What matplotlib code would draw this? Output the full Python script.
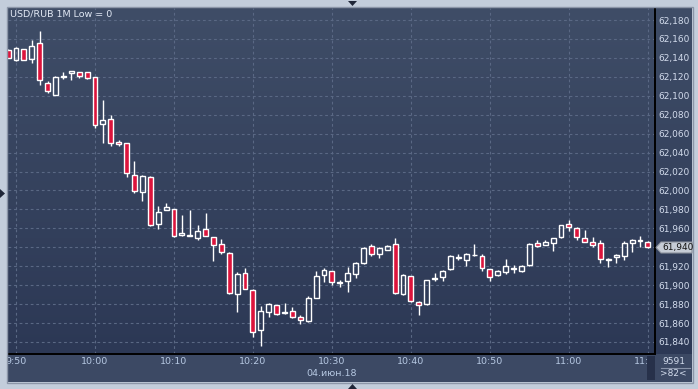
import numpy as np
import matplotlib.pyplot as plt
from matplotlib.patches import Polygon, Rectangle

# one-minute candles, 09:49 .. 11:10
opens = [62148.7, 62137.4, 62149.4, 62138.9, 62155.8, 62113.5, 62100.8, 62119.8, 62123.7, 62125.1,
         62125.1, 62119.8, 62070.1, 62075.4, 62051.5, 62050.0, 62016.2, 61998.2, 62014.5, 61964.1,
         61979.2, 61980.3, 61952.8, 61951.8, 61950.3, 61959.1, 61950.7, 61943.3, 61933.8, 61890.4,
         61912.6, 61894.6, 61852.4, 61871.4, 61878.8, 61871.0, 61872.8, 61866.1, 61861.9, 61886.9,
         61911.2, 61914.7, 61902.4, 61904.9, 61911.6, 61923.9, 61941.2, 61933.4, 61937.6, 61943.3,
         61891.1, 61909.4, 61882.0, 61880.5, 61906.6, 61908.4, 61916.8, 61928.8, 61926.4, 61931.6,
         61930.9, 61916.8, 61910.5, 61913.7, 61917.2, 61914.7, 61921.8, 61944.3, 61942.9, 61944.3,
         61950.7, 61964.4, 61960.5, 61949.6, 61945.4, 61944.3, 61926.7, 61929.5, 61930.6, 61944.0,
         61946.8, 61945.4]
highs = [62149.0, 62151.9, 62149.6, 62159.3, 62168.8, 62116.0, 62120.9, 62125.1, 62126.5, 62125.3,
         62125.3, 62120.0, 62095.9, 62080.0, 62053.6, 62050.3, 62031.4, 62016.6, 62015.5, 61983.8,
         61987.0, 61980.5, 61974.3, 61978.9, 61963.7, 61976.4, 61951.0, 61948.9, 61935.5, 61913.7,
         61917.9, 61896.0, 61878.0, 61881.6, 61879.2, 61881.3, 61876.7, 61868.6, 61888.7, 61914.7,
         61918.3, 61915.0, 61905.6, 61919.0, 61924.2, 61940.1, 61943.6, 61940.4, 61942.6, 61950.0,
         61911.6, 61909.7, 61883.0, 61905.5, 61913.0, 61916.1, 61932.0, 61932.7, 61933.8, 61943.6,
         61932.7, 61917.0, 61916.1, 61927.8, 61921.4, 61921.4, 61944.0, 61947.8, 61947.8, 61950.3,
         61963.7, 61969.0, 61961.6, 61958.4, 61951.0, 61947.8, 61928.8, 61933.1, 61946.8, 61948.6,
         61951.7, 61946.5]
lows = [62139.5, 62136.4, 62137.5, 62134.3, 62111.0, 62102.6, 62100.8, 62117.7, 62116.3, 62118.8,
        62117.7, 62065.6, 62049.7, 62046.5, 62046.5, 62014.5, 61996.8, 61989.1, 61963.0, 61958.8,
        61979.0, 61950.7, 61951.7, 61951.7, 61948.2, 61951.5, 61926.0, 61933.4, 61891.1, 61871.4,
        61895.7, 61845.7, 61836.1, 61866.8, 61868.2, 61869.3, 61865.4, 61859.4, 61861.5, 61886.2,
        61903.5, 61900.6, 61898.2, 61893.2, 61908.0, 61922.5, 61931.3, 61929.2, 61937.3, 61890.4,
        61890.0, 61882.7, 61868.9, 61879.5, 61904.0, 61904.5, 61916.5, 61927.0, 61920.7, 61930.6,
        61915.4, 61904.9, 61910.2, 61912.3, 61913.3, 61914.4, 61920.7, 61940.1, 61942.6, 61936.6,
        61950.0, 61957.7, 61947.2, 61945.7, 61940.8, 61923.9, 61919.3, 61923.5, 61927.0, 61935.5,
        61939.8, 61939.0]
closes = [62140.0, 62150.5, 62137.8, 62152.6, 62116.3, 62104.7, 62119.8, 62120.5, 62126.2, 62120.5,
          62118.8, 62069.1, 62074.4, 62050.0, 62049.0, 62018.0, 61999.3, 62015.5, 61963.4, 61977.1,
          61982.7, 61951.7, 61954.9, 61952.5, 61957.0, 61951.7, 61942.2, 61935.5, 61892.2, 61911.6,
          61896.4, 61850.2, 61872.4, 61879.8, 61869.3, 61871.4, 61866.1, 61862.9, 61886.2, 61909.4,
          61915.8, 61903.1, 61903.1, 61912.6, 61923.2, 61939.4, 61932.4, 61939.0, 61941.2, 61892.2,
          61910.5, 61883.7, 61878.8, 61905.2, 61907.3, 61914.7, 61930.9, 61929.5, 61932.7, 61932.0,
          61917.9, 61908.4, 61915.1, 61920.4, 61917.9, 61920.4, 61943.6, 61941.2, 61945.4, 61950.0,
          61963.4, 61961.3, 61950.7, 61946.1, 61942.9, 61927.4, 61927.4, 61932.0, 61944.3, 61947.5,
          61947.5, 61940.1]

price_ticks = list(range(61840, 62181, 20))
time_labels = ["9:50", "10:00", "10:10", "10:20", "10:30", "10:40", "10:50", "11:00", "11:10"]
date_label = "04.июн.18"
title = "USD/RUB 1M Low = 0"
last_price = 61940
footer_top, footer_bottom = "9591", ">82<"

W, H = 698, 389


def box(x0, y0, x1, y1):
    # pixel box (top-left origin) -> figure fraction rect
    return [x0 / W, 1 - y1 / H, (x1 - x0) / W, (y1 - y0) / H]


fig = plt.figure(figsize=(W / 100, H / 100), dpi=100, facecolor="#c3cddb")

# frame border
fig.patches.append(Rectangle((7 / W, 1 - 383 / H), 686 / W, 376 / H, transform=fig.transFigure,
                             facecolor="none", edgecolor="#8c96a8", lw=1))

# gradient background for plot + right scale
bg = fig.add_axes(box(8, 8, 692, 354))
grad = np.linspace(0, 1, 256).reshape(-1, 1)
top = np.array([63, 77, 103]) / 255
bot = np.array([44, 56, 85]) / 255
img = top + (bot - top) * grad[..., None]
bg.imshow(img.reshape(256, 1, 3), aspect="auto", extent=[0, 1, 0, 1])
bg.axis("off")

# bottom time panel
axb = fig.add_axes(box(8, 354, 655, 382))
axb.set_facecolor("#3c4964")
axr = fig.add_axes(box(655, 354, 692, 382))
axr.set_facecolor("#3c4964")
for a in (axb, axr):
    a.set_xticks([])
    a.set_yticks([])
    for s in a.spines.values():
        s.set_visible(False)

ax = fig.add_axes(box(8, 8, 655, 354))
ax.patch.set_alpha(0)

x = np.arange(len(opens))
o, h, l, c = map(np.array, (opens, highs, lows, closes))
up = c >= o
btop = np.maximum(o, c)
bbot = np.minimum(o, c)
hgt = np.maximum(btop - bbot, 0.6)

ax.vlines(x, btop, h, color="white", lw=1.0, zorder=3)
ax.vlines(x, l, bbot, color="white", lw=1.0, zorder=3)
ax.bar(x[up], hgt[up], bottom=bbot[up], width=0.62, facecolor="none",
       edgecolor="white", lw=1.0, zorder=4)
ax.bar(x[~up], hgt[~up], bottom=bbot[~up], width=0.62, facecolor="#dc143c",
       edgecolor="white", lw=1.0, zorder=4)

xlo, xhi = -0.01, 81.9
ax.set_xlim(xlo, xhi)
ax.set_ylim(61827.3, 62192.7)

tick_x = [1 + 10 * i for i in range(len(time_labels))]
ax.set_xticks(tick_x)
ax.set_xticklabels([])
ax.set_yticks(price_ticks)
ax.yaxis.tick_right()
ax.set_yticklabels(["" if v == last_price else f"{v:,}" for v in price_ticks],
                   fontsize=6.5, color="#d3dced")
ax.tick_params(axis="y", length=0, pad=2.5)
ax.tick_params(axis="x", length=0)
ax.grid(True, color="#5a6884", lw=0.8, linestyle=(0, (2.5, 2.5)))
for k, s in ax.spines.items():
    s.set_visible(k in ("right", "bottom"))
    s.set_color("black")
    s.set_linewidth(1.4)

ax.text(2 / 647, 1 - 6 / 346, title, transform=ax.transAxes, fontsize=6.8,
        color="#e2e9f5", va="center", ha="left")

# time labels
axb.set_xlim(xlo, xhi)
axb.set_ylim(0, 1)
for tx, lab in zip(tick_x, time_labels):
    axb.text(tx, 1 - 7 / 28, lab, fontsize=6.8, color="#b6c8e2", ha="center", va="center",
             clip_on=True)
axb.text(41, 1 - 19 / 28, date_label, fontsize=6.8, color="#b6c8e2", ha="center", va="center")
axb.add_patch(Rectangle((80.85, 0.07), xhi - 80.85, 0.86, facecolor="#27314a", edgecolor="none",
                        zorder=5))

axr.text(0.5, 1 - 7 / 28, footer_top, transform=axr.transAxes, fontsize=6.5, color="#d3dced",
         ha="center", va="center")
axr.text(0.5, 1 - 19 / 28, footer_bottom, transform=axr.transAxes, fontsize=6.5, color="#d3dced",
         ha="center", va="center")
axr.plot([0.15, 0.95], [0.5, 0.5], color="#8792a8", lw=0.8, transform=axr.transAxes)

# last price marker on scale
pts = [(656, 247.5), (661, 242), (692, 242), (692, 253), (661, 253)]
fig.patches.append(Polygon([(px / W, 1 - py / H) for px, py in pts], closed=True,
                           transform=fig.transFigure, facecolor="#c6ccd6", edgecolor="#8a909c",
                           lw=0.8, zorder=10))
fig.text(662 / W, 1 - 247.5 / H, f"{last_price:,}", fontsize=6.5, color="#111111", va="center",
         ha="left", zorder=11)

# little navigation arrows
fig.patches.append(Polygon([(348 / W, 1 - 1 / H), (357 / W, 1 - 1 / H), (352.5 / W, 1 - 6 / H)],
                           transform=fig.transFigure, facecolor="#1f2638"))
fig.patches.append(Polygon([(348 / W, 1 - 389 / H), (357 / W, 1 - 389 / H), (352.5 / W, 1 - 384 / H)],
                           transform=fig.transFigure, facecolor="#1f2638"))
fig.patches.append(Polygon([(0, 1 - 189 / H), (0, 1 - 198 / H), (5 / W, 1 - 193.5 / H)],
                           transform=fig.transFigure, facecolor="#1f2638"))

fig.savefig("out.png", dpi=100, facecolor=fig.get_facecolor())
